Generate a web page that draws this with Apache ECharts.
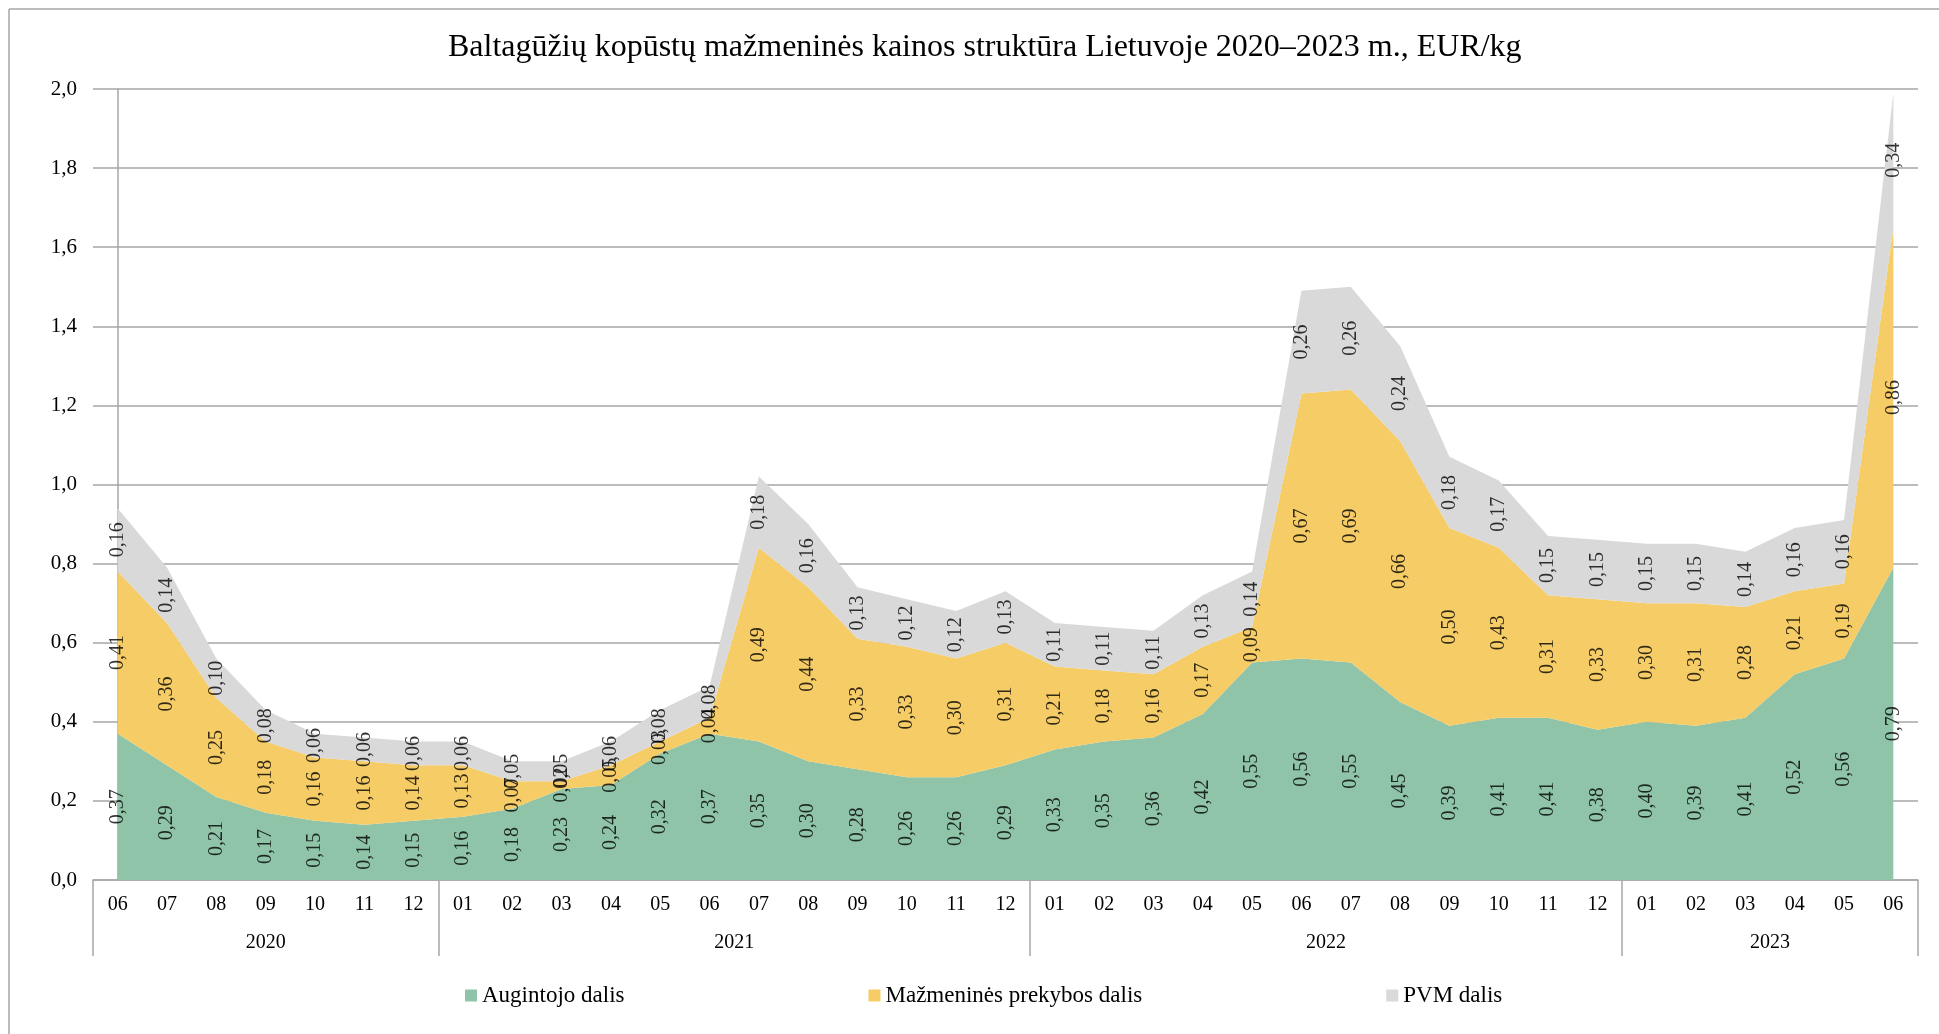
<!DOCTYPE html>
<html>
<head>
<meta charset="utf-8">
<script src="https://cdn.jsdelivr.net/npm/echarts@6/dist/echarts.min.js"></script>
<style>html,body{margin:0;padding:0;background:#fff;}#chart{width:1939px;height:1034px;}</style>
</head>
<body>
<div id="chart"></div>
<script>
var titleText = 'Baltagūžių kopūstų mažmeninės kainos struktūra Lietuvoje 2020–2023 m., EUR/kg';
var months = ['06','07','08','09','10','11','12',
  '01','02','03','04','05','06','07','08','09','10','11','12',
  '01','02','03','04','05','06','07','08','09','10','11','12',
  '01','02','03','04','05','06'];
var years = ['2020','2021','2022','2023'];
var yearMonthCounts = [7, 12, 12, 6];
var seriesNames = ['Augintojo dalis','Mažmeninės prekybos dalis','PVM dalis'];
var augintojo = [0.37,0.29,0.21,0.17,0.15,0.14,0.15,
  0.16,0.18,0.23,0.24,0.32,0.37,0.35,0.30,0.28,0.26,0.26,0.29,
  0.33,0.35,0.36,0.42,0.55,0.56,0.55,0.45,0.39,0.41,0.41,0.38,
  0.40,0.39,0.41,0.52,0.56,0.79];
var prekybos = [0.41,0.36,0.25,0.18,0.16,0.16,0.14,
  0.13,0.07,0.02,0.05,0.03,0.04,0.49,0.44,0.33,0.33,0.30,0.31,
  0.21,0.18,0.16,0.17,0.09,0.67,0.69,0.66,0.50,0.43,0.31,0.33,
  0.30,0.31,0.28,0.21,0.19,0.86];
var pvm = [0.16,0.14,0.10,0.08,0.06,0.06,0.06,
  0.06,0.05,0.05,0.06,0.08,0.08,0.18,0.16,0.13,0.12,0.12,0.13,
  0.11,0.11,0.11,0.13,0.14,0.26,0.26,0.24,0.18,0.17,0.15,0.15,
  0.15,0.15,0.14,0.16,0.16,0.34];
var yTicks = [0,0.2,0.4,0.6,0.8,1.0,1.2,1.4,1.6,1.8,2.0];

var colors = ['#8fc4a8','#f5cc66','#d9d9d9'];
var FONT = '"Liberation Serif","Times New Roman",serif';
var gridColor = '#a6a6a6';
var fmt = function(v){ return v.toFixed(2).replace('.', ','); };

var boundaries = [-0.5], centres = [], acc = -0.5;
yearMonthCounts.forEach(function(c){ centres.push(acc + c/2); acc += c; boundaries.push(acc); });

var allData = [augintojo, prekybos, pvm];
var series = [];
allData.forEach(function(arr, s){
  series.push({
    name: seriesNames[s], type: 'line', stack: 'total', data: arr,
    symbol: 'none', lineStyle: {width: 0}, areaStyle: {color: colors[s], opacity: 1},
    itemStyle: {color: colors[s]}, z: 2, silent: true
  });
});
allData.forEach(function(arr, s){
  var pts = arr.map(function(v, i){
    var base = 0; for (var k = 0; k < s; k++) base += allData[k][i];
    return [i, base + v/2, v];
  });
  series.push({
    name: 'lbl' + s, type: 'scatter', data: pts, symbolSize: 0, silent: true, z: 5,
    label: {show: true, position: 'inside', rotate: 90, color: '#000',
      fontFamily: FONT, fontSize: 20,
      formatter: function(p){ return fmt(p.value[2]); }}
  });
});

var chart = echarts.init(document.getElementById('chart'));
chart.setOption({
  animation: false,
  backgroundColor: '#fff',
  title: {text: titleText, left: 448, top: 32, padding: 0,
    textStyle: {fontFamily: FONT, fontSize: 32, fontWeight: 'normal', color: '#000'}},
  legend: {
    data: seriesNames.map(function(n, i){ return {name: n, itemStyle: {color: colors[i]}}; }),
    left: 460, top: 979, icon: 'rect', itemWidth: 12, itemHeight: 12, itemGap: 244,
    textStyle: {fontFamily: FONT, fontSize: 23, color: '#000'}
  },
  grid: {left: 93, right: 21, top: 89, bottom: 154},
  xAxis: [
    {type: 'category', data: months, boundaryGap: true,
      axisLine: {show: true, lineStyle: {color: gridColor, width: 1.5}},
      axisTick: {show: false},
      axisLabel: {interval: 0, margin: 15, color: '#000', fontFamily: FONT, fontSize: 20}},
    {type: 'value', min: -0.5, max: 36.5, position: 'bottom',
      axisLine: {show: false}, splitLine: {show: false},
      axisTick: {show: true, customValues: boundaries, length: 76, lineStyle: {color: gridColor, width: 1.5}},
      axisLabel: {customValues: centres, margin: 53, color: '#000', fontFamily: FONT, fontSize: 20,
        formatter: function(v){ var i = centres.indexOf(v); return i >= 0 ? years[i] : ''; }}}
  ],
  yAxis: {type: 'value', min: yTicks[0], max: yTicks[yTicks.length-1], interval: 0.2,
    axisLine: {show: true, lineStyle: {color: gridColor, width: 1.5}},
    axisTick: {show: false},
    splitLine: {show: true, lineStyle: {color: gridColor, width: 1.5}},
    axisLabel: {margin: 16, color: '#000', fontFamily: FONT, fontSize: 21,
      formatter: function(v){ return v.toFixed(1).replace('.', ','); }}},
  graphic: [
    {type: 'line', shape: {x1: 9, y1: 9, x2: 1939, y2: 9}, style: {stroke: gridColor, lineWidth: 1.5}},
    {type: 'line', shape: {x1: 9, y1: 9, x2: 9, y2: 1034}, style: {stroke: gridColor, lineWidth: 1.5}}
  ],
  series: series
});
</script>
</body>
</html>
